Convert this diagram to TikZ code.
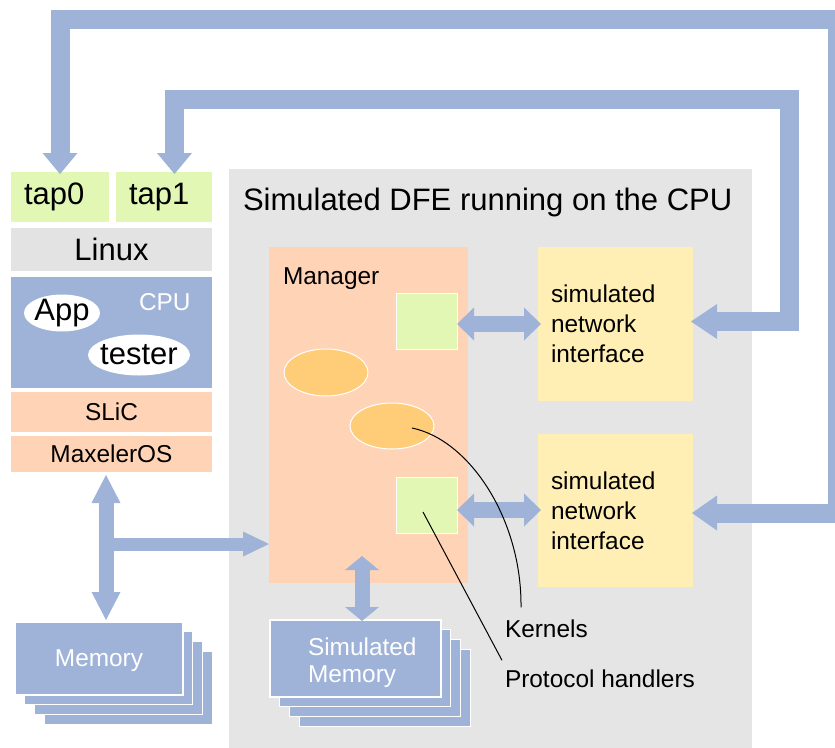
\documentclass[tikz,border=0pt]{standalone}
\usepackage{fontspec}
\setmainfont{Liberation Sans}
\usetikzlibrary{arrows.meta,shapes.geometric,calc}
\definecolor{blu}{RGB}{159,178,216}
\definecolor{peach}{RGB}{255,211,182}
\definecolor{lgreen}{RGB}{226,247,180}
\definecolor{lyellow}{RGB}{255,239,181}
\definecolor{lgray}{RGB}{229,229,229}
\definecolor{linuxgray}{RGB}{227,227,227}
\definecolor{orng}{RGB}{255,204,119}
\newcommand{\bigf}{\fontsize{31pt}{36pt}\selectfont}
\newcommand{\medf}{\fontsize{24.4pt}{30pt}\selectfont}
\begin{document}
\begin{tikzpicture}[x=1pt,y=-1pt,
  box/.style={rectangle, inner sep=0pt, outer sep=0pt, anchor=north west},
  txt/.style={inner sep=0pt, outer sep=0pt, anchor=base west},
  ell/.style={ellipse, inner sep=0pt, outer sep=0pt},
  stackbox/.style={box, fill=blu, draw=white, line width=1.2pt},
  blockarrow/.style={draw=blu, line join=miter},
]
\useasboundingbox (0,0) rectangle (835,747);
\clip (0,0) rectangle (835,747);

% ---------- left column ----------
\node[box, fill=lgreen, minimum width=98pt, minimum height=50pt, text width=72pt, inner xsep=13pt, align=left, font=\bigf] (tap0) at (11,172) {tap0};
\node[box, fill=lgreen, minimum width=96pt, minimum height=50pt, text width=70pt, inner xsep=13pt, align=left, font=\bigf] (tap1) at (116,172) {tap1};
\node[box, fill=linuxgray, minimum width=201pt, minimum height=43pt, font=\bigf] (linux) at (11,228) {Linux};
\node[box, fill=blu, minimum width=201pt, minimum height=111pt] (cpu) at (11,277) {};
\node[txt, font=\medf, text=white] (cpulbl) at (139,310) {CPU};
\node[ell, fill=white, minimum width=76pt, minimum height=37pt, label={[font=\bigf, inner sep=0pt]center:App}] (app) at (62,313) {};
\node[ell, fill=white, minimum width=102pt, minimum height=41pt, label={[font=\bigf, inner sep=0pt]center:tester}] (tester) at (139,355) {};
\node[box, fill=peach, minimum width=201pt, minimum height=40pt, font=\medf] (slic) at (11,392) {SLiC};
\node[box, fill=peach, minimum width=201pt, minimum height=36pt, font=\medf] (maxos) at (11,436) {MaxelerOS};

% Memory stack
\node[stackbox, minimum width=168pt, minimum height=73pt] (mem4) at (44.1,651.1) {};
\node[stackbox, minimum width=168pt, minimum height=73pt] (mem3) at (34.4,641.4) {};
\node[stackbox, minimum width=168pt, minimum height=73pt] (mem2) at (24.7,631.7) {};
\node[stackbox, minimum width=168pt, minimum height=73pt, label={[font=\medf, text=white, inner sep=0pt, text depth=0pt]center:Memory}] (mem) at (15,622) {};

% ---------- simulated DFE ----------
\node[box, fill=lgray, minimum width=523pt, minimum height=600pt] (dfe) at (229,169) {};
\node[txt, font=\bigf] (title) at (243,210) {Simulated DFE running on the CPU};
\node[box, fill=peach, minimum width=199pt, minimum height=336pt] (mgr) at (269,247) {};
\node[txt, font=\medf] (mgrlbl) at (283,284) {Manager};
\node[box, fill=lgreen, draw=white, line width=1pt, minimum width=61pt, minimum height=56pt] (gsq1) at (396,293) {};
\node[box, fill=lgreen, draw=white, line width=1pt, minimum width=61pt, minimum height=56pt] (gsq2) at (396,477) {};
\node[ell, fill=orng, draw=white, line width=1pt, minimum width=84pt, minimum height=47pt] (kern1) at (326,372.5) {};
\node[ell, fill=orng, draw=white, line width=1pt, minimum width=84pt, minimum height=46pt] (kern2) at (392,426) {};
\node[box, fill=lyellow, minimum width=155pt, minimum height=154pt, text width=129pt, inner xsep=13pt, align=left, font=\medf] (ynet1) at (538,247) {simulated\\network\\interface};
\node[box, fill=lyellow, minimum width=155pt, minimum height=153pt, text width=129pt, inner xsep=13pt, align=left, font=\medf] (ynet2) at (538,434) {simulated\\network\\interface};

% Simulated memory stack
\node[stackbox, minimum width=171pt, minimum height=77pt] (smem4) at (299.1,649.1) {};
\node[stackbox, minimum width=171pt, minimum height=77pt] (smem3) at (289.4,639.4) {};
\node[stackbox, minimum width=171pt, minimum height=77pt] (smem2) at (279.7,629.7) {};
\node[stackbox, minimum width=171pt, minimum height=77pt] (smem) at (270,620) {};
\node[inner sep=0pt, outer sep=0pt, anchor=north west, font=\fontsize{24.4pt}{27pt}\selectfont, text=white, align=left] (smemlbl) at (308,637.4) {Simulated\\Memory};

% labels
\node[txt, font=\medf] (kernlbl) at (505,637) {Kernels};
\node[txt, font=\medf] (protlbl) at (505,687) {Protocol handlers};

% ---------- arrows ----------
% green squares <-> network interfaces
\draw[blockarrow, line width=16pt, {Triangle[width=33pt,length=17pt,line width=0pt]}-{Triangle[width=33pt,length=17pt,line width=0pt]}]
  ($(gsq1.east)+(0,3)$) -- ($(ynet1.west)+(3,0)$);
\draw[blockarrow, line width=16pt, {Triangle[width=33pt,length=17pt,line width=0pt]}-{Triangle[width=33pt,length=17pt,line width=0pt]}]
  ($(gsq2.east)+(0,5)$) -- ($(ynet2.west)+(3,-0.5)$);

% outer loop: tap0 <-> network interface 2
\coordinate (l1a) at (60,19.5);
\coordinate (l1b) at (837,19.5);
\draw[blockarrow, line width=19pt, {Triangle[width=35pt,length=21pt,line width=0pt]}-{Triangle[width=35pt,length=25pt,line width=0pt]}]
  ($(tap0.north)+(0,2)$) -- (l1a) -- (l1b) |- ($(ynet2.east)+(-1,2.5)$);

% inner loop: tap1 <-> network interface 1
\coordinate (l2a) at (174.5,99.5);
\coordinate (l2b) at (789.5,99.5);
\draw[blockarrow, line width=19pt, {Triangle[width=35pt,length=21pt,line width=0pt]}-{Triangle[width=35pt,length=26pt,line width=0pt]}]
  ($(tap1.north)+(10.5,2)$) -- (l2a) -- (l2b) |- ($(ynet1.east)+(-2,-2.5)$);

% MaxelerOS <-> Memory, and branch to Manager
\coordinate (brstart) at (106,544);
\draw[blockarrow, line width=13pt, -{Triangle[width=25pt,length=26pt,line width=0pt]}]
  (brstart) -- (mgr.west |- brstart);
\draw[blockarrow, line width=15pt, {Triangle[width=29pt,length=28pt,line width=0pt]}-{Triangle[width=29pt,length=28pt,line width=0pt]}]
  ($(maxos.south)+(-5.5,3)$) -- ($(mem.north)+(7,-2)$);

% Manager <-> Simulated memory
\draw[blockarrow, line width=15pt, {Triangle[width=34pt,length=14pt,line width=0pt]}-{Triangle[width=34pt,length=14pt,line width=0pt]}]
  ($(mgr.south)+(-6.5,-27)$) -- ($(smem.north)+(6.5,1)$);

% label lines
\draw[line width=1pt] ($(kern2.center)+(20,2)$) .. controls (470,440) and (522,520) .. ($(kernlbl.north west)+(16,-12)$);
\draw[line width=1pt] ($(gsq2.center)+(-3.5,7)$) -- ($(protlbl.north west)+(-3,-9)$);
\end{tikzpicture}
\end{document}
